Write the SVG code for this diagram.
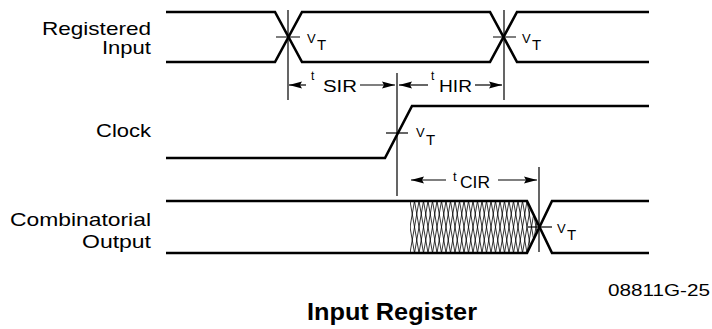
<svg xmlns="http://www.w3.org/2000/svg" width="712" height="329" viewBox="0 0 712 329">
<style>
.wave{fill:none;stroke:#000;stroke-width:2.6;stroke-linejoin:miter}
.thin{fill:none;stroke:#000;stroke-width:1.2}
.hatch{fill:none;stroke:#000;stroke-width:0.8}
.lbl{font-family:"Liberation Sans",Arial,sans-serif;font-size:19px;fill:#000}
.sub{font-family:"Liberation Sans",Arial,sans-serif;fill:#000}
.title{font-family:"Liberation Sans",Arial,sans-serif;font-size:23px;font-weight:bold;fill:#000}
</style>
<defs>
<marker id="ah" viewBox="0 0 13 8" refX="13" refY="4" markerWidth="13" markerHeight="8" markerUnits="userSpaceOnUse" orient="auto-start-reverse">
<path d="M0,0.5 L13,4 L0,7.5 L2,4 Z" fill="#000"/>
</marker>
<clipPath id="hclip">
<polygon points="410,201 527,201 539,227 527,253 410,253"/>
</clipPath>
</defs>
<rect width="712" height="329" fill="#fff"/>

<g id="registered-input">
<text class="lbl" x="151" y="35" text-anchor="end" textLength="109" lengthAdjust="spacingAndGlyphs">Registered</text>
<text class="lbl" x="151" y="54" text-anchor="end" textLength="49" lengthAdjust="spacingAndGlyphs">Input</text>
<path class="wave" d="M166,12 H275 L302,62 H490 L517,12 H649"/>
<path class="wave" d="M166,62 H275 L302,12 H490 L517,62 H649"/>
<path class="thin" d="M276,37 H300 M493,37 H516"/>
<text class="sub" x="307" y="43" font-size="13">V</text>
<text class="sub" x="317" y="50" font-size="15">T</text>
<text class="sub" x="522" y="43" font-size="13">V</text>
<text class="sub" x="532" y="50" font-size="15">T</text>
</g>

<g id="clock">
<text class="lbl" x="151" y="137" text-anchor="end" textLength="55" lengthAdjust="spacingAndGlyphs">Clock</text>
<path class="wave" d="M166,158 H385 L412,106 H649"/>
<path class="thin" d="M386,133 H408"/>
<text class="sub" x="416" y="137" font-size="13">V</text>
<text class="sub" x="426" y="145" font-size="15">T</text>
</g>

<g id="combinatorial-output">
<text class="lbl" x="151" y="226" text-anchor="end" textLength="141" lengthAdjust="spacingAndGlyphs">Combinatorial</text>
<text class="lbl" x="151" y="248" text-anchor="end" textLength="69" lengthAdjust="spacingAndGlyphs">Output</text>
<g clip-path="url(#hclip)">
<path class="hatch" d="M401,201 L410,253 M405.5,201 L414.5,253 M410,201 L419,253 M414.5,201 L423.5,253 M419,201 L428,253 M423.5,201 L432.5,253 M428,201 L437,253 M432.5,201 L441.5,253 M437,201 L446,253 M441.5,201 L450.5,253 M446,201 L455,253 M450.5,201 L459.5,253 M455,201 L464,253 M459.5,201 L468.5,253 M464,201 L473,253 M468.5,201 L477.5,253 M473,201 L482,253 M477.5,201 L486.5,253 M482,201 L491,253 M486.5,201 L495.5,253 M491,201 L500,253 M495.5,201 L504.5,253 M500,201 L509,253 M504.5,201 L513.5,253 M509,201 L518,253 M513.5,201 L522.5,253 M518,201 L527,253 M522.5,201 L531.5,253 M527,201 L536,253 M531.5,201 L540.5,253
M401,253 L410,201 M405.5,253 L414.5,201 M410,253 L419,201 M414.5,253 L423.5,201 M419,253 L428,201 M423.5,253 L432.5,201 M428,253 L437,201 M432.5,253 L441.5,201 M437,253 L446,201 M441.5,253 L450.5,201 M446,253 L455,201 M450.5,253 L459.5,201 M455,253 L464,201 M459.5,253 L468.5,201 M464,253 L473,201 M468.5,253 L477.5,201 M473,253 L482,201 M477.5,253 L486.5,201 M482,253 L491,201 M486.5,253 L495.5,201 M491,253 L500,201 M495.5,253 L504.5,201 M500,253 L509,201 M504.5,253 L513.5,201 M509,253 L518,201 M513.5,253 L522.5,201 M518,253 L527,201 M522.5,253 L531.5,201 M527,253 L536,201 M531.5,253 L540.5,201"/>
</g>
<path class="wave" d="M166,201 H527 L552,253 H649"/>
<path class="wave" d="M166,253 H527 L552,201 H649"/>
<path class="thin" d="M528,227 H552"/>
<text class="sub" x="557" y="233" font-size="13">V</text>
<text class="sub" x="567" y="240" font-size="15">T</text>
</g>

<g id="connectors">
<path class="thin" d="M288,10 V100 M504,10 V100 M397,73 V196 M539,167 V252"/>
<path class="thin" d="M306,85 H289" marker-end="url(#ah)"/>
<path class="thin" d="M360,85 H395" marker-end="url(#ah)"/>
<path class="thin" d="M428,85 H399" marker-end="url(#ah)"/>
<path class="thin" d="M475,85 H502" marker-end="url(#ah)"/>
<path class="thin" d="M446,180 H411" marker-end="url(#ah)"/>
<path class="thin" d="M498,180 H537" marker-end="url(#ah)"/>
<text class="sub" x="311" y="80" font-size="12">t</text>
<text class="sub" x="323" y="92" font-size="16" textLength="34" lengthAdjust="spacingAndGlyphs">SIR</text>
<text class="sub" x="431" y="80" font-size="12">t</text>
<text class="sub" x="439" y="92" font-size="16" textLength="33" lengthAdjust="spacingAndGlyphs">HIR</text>
<text class="sub" x="453" y="181" font-size="13">t</text>
<text class="sub" x="460" y="188" font-size="16" textLength="30" lengthAdjust="spacingAndGlyphs">CIR</text>
</g>

<g id="caption">
<text class="sub" x="608" y="296" font-size="16" textLength="102" lengthAdjust="spacingAndGlyphs">08811G-25</text>
<text class="title" x="307" y="320" textLength="170" lengthAdjust="spacingAndGlyphs">Input Register</text>
</g>
</svg>
